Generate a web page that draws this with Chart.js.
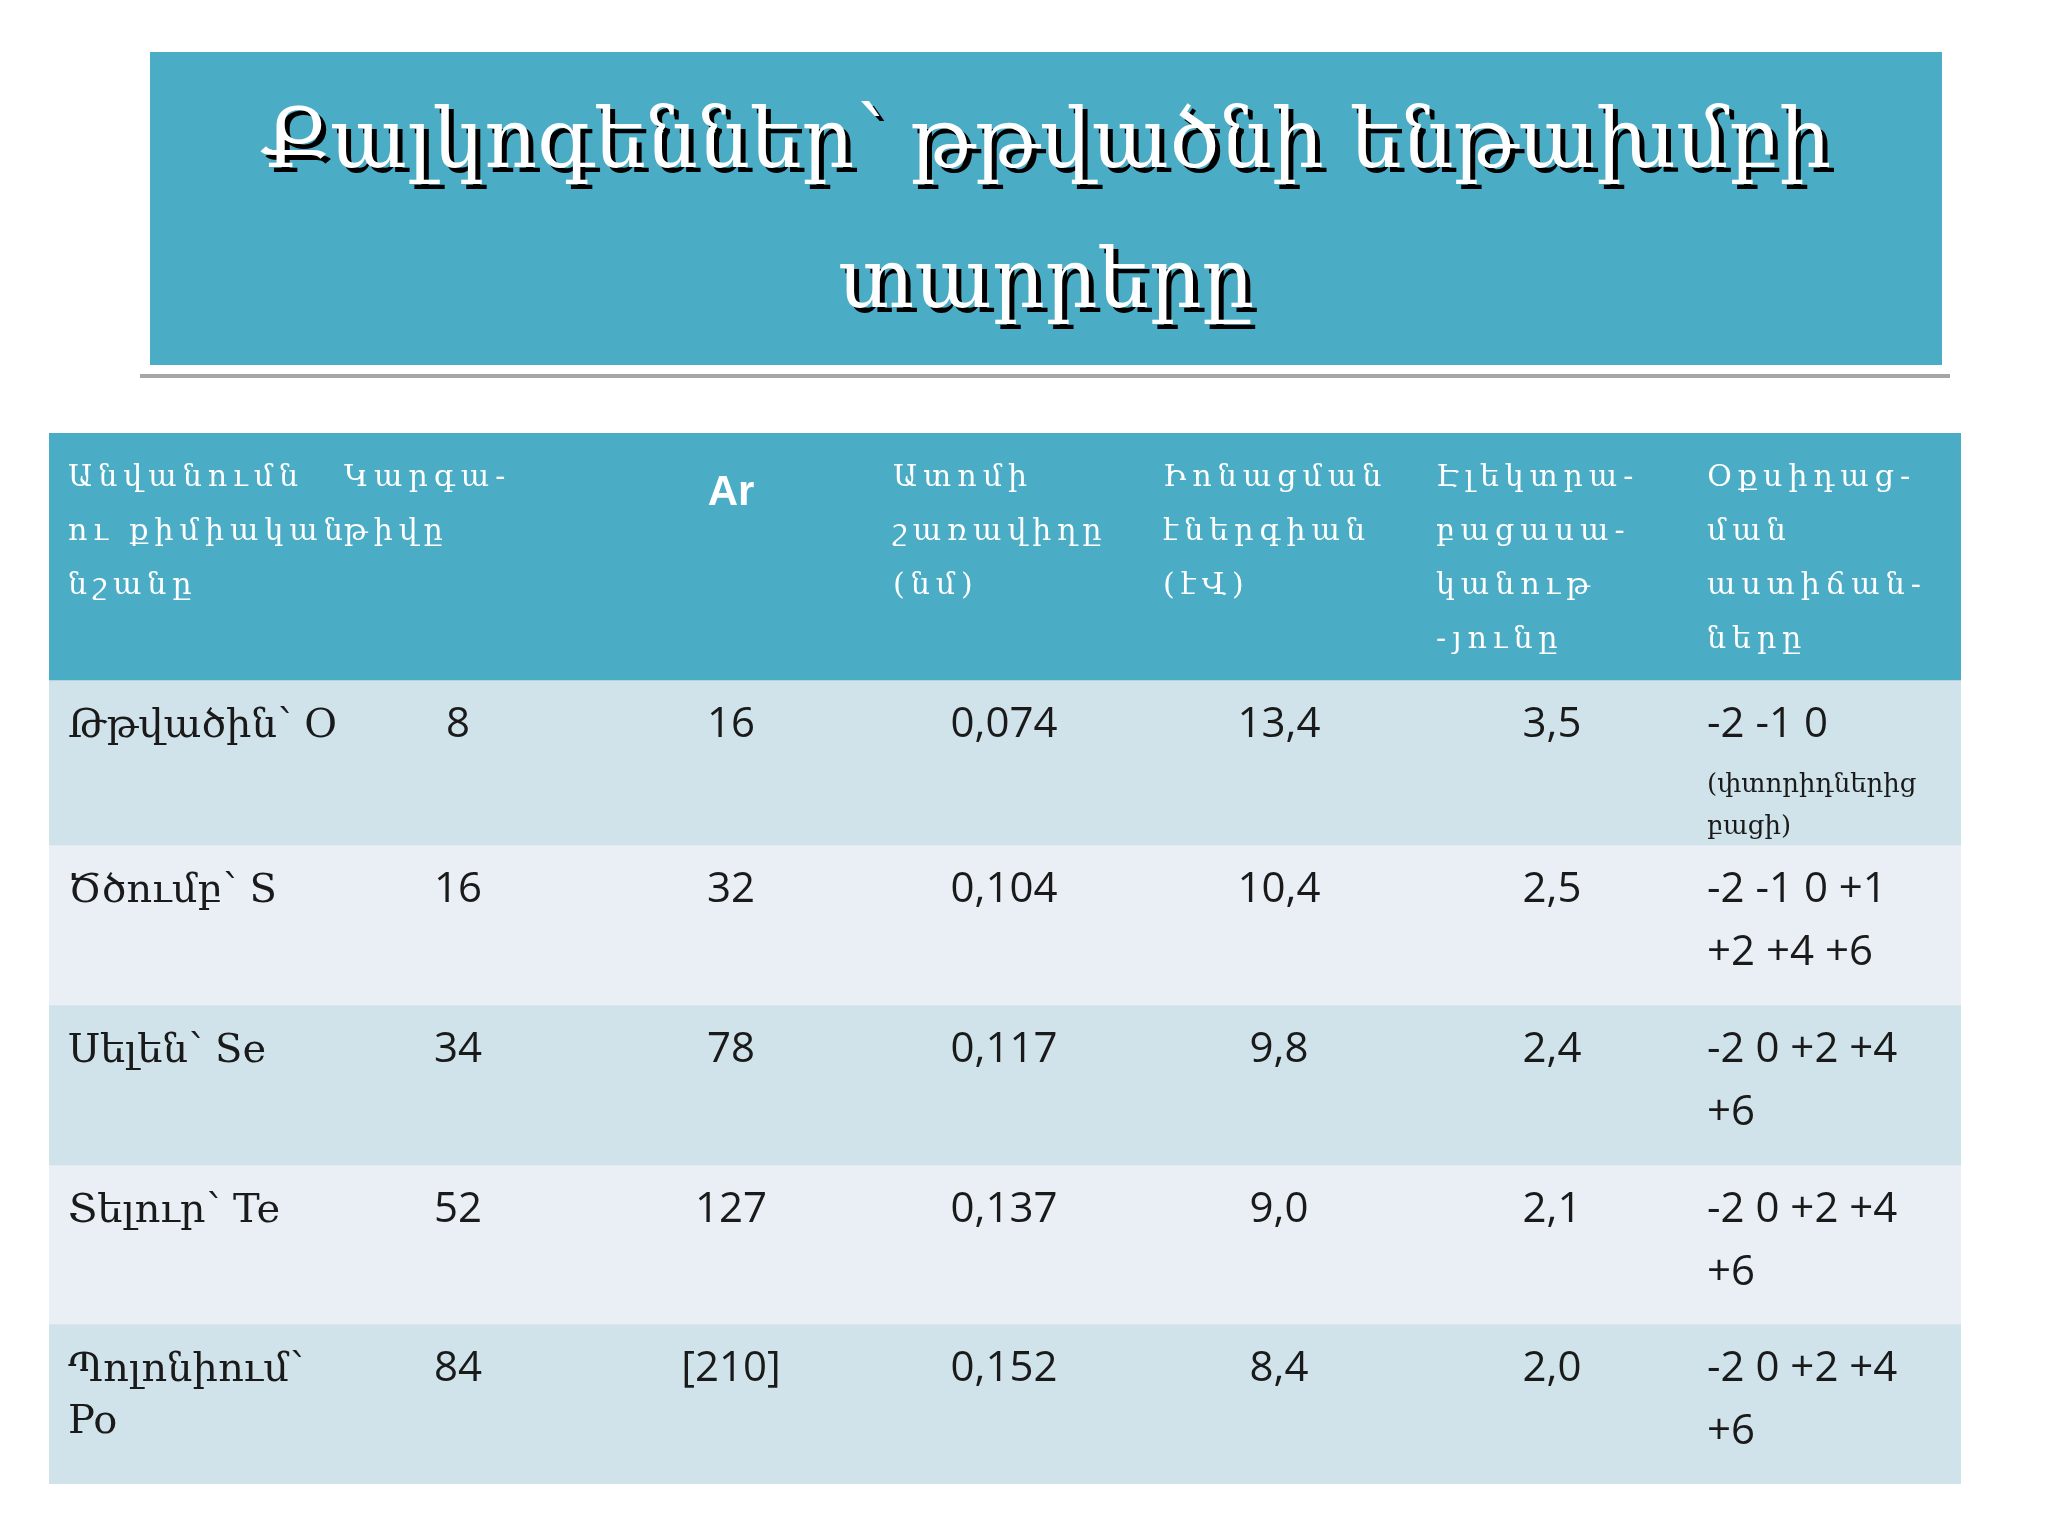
<!DOCTYPE html>
<html>
<head>
<meta charset="utf-8">
<script src="https://cdn.jsdelivr.net/npm/chart.js@4"></script>
<style>
  body { margin: 0; background: #fff; width: 2048px; height: 1536px; position: relative; overflow: hidden; }
  #titulo {
    position: absolute; left: 150px; top: 52px; width: 1792px; height: 313px;
    background: #4bacc6; color: #fff; text-align: center;
    font-family: "DejaVu Serif", serif; font-size: 82px; line-height: 140px;
    display: flex; align-items: center; justify-content: center;
    text-shadow: 5px 5px 0 #000;
  }
  #linea { position: absolute; left: 140px; top: 374px; width: 1810px; height: 4px; background: #a6a6a6; }
  #caja { position: absolute; left: 49px; top: 433px; width: 1912px; height: 1051px; }
</style>
</head>
<body>
<div id="titulo">Քալկոգեններ՝ թթվածնի ենթախմբի<br>տարրերը</div>
<div id="linea"></div>
<div id="caja"><canvas id="tabla"></canvas></div>
<script>
// Datos de la tabla
const encabezados = [
  ["Անվանումն", "ու քիմիական", "նշանը"],
  ["Կարգա-", "թիվը"],
  ["Ar"],
  ["Ատոմի", "շառավիղը", "(նմ)"],
  ["Իոնացման", "էներգիան", "(էՎ)"],
  ["Էլեկտրա-", "բացասա-", "կանութ", "-յունը"],
  ["Օքսիդաց-", "ման", "աստիճան-", "ները"]
];
const nombres = [["Թթվածին՝ O"], ["Ծծումբ՝ S"], ["Սելեն՝ Se"], ["Տելուր՝ Te"], ["Պոլոնիում՝", "Po"]];
const numeroAtomico = ["8", "16", "34", "52", "84"];
const masaAtomica = ["16", "32", "78", "127", "[210]"];
const radio = ["0,074", "0,104", "0,117", "0,137", "0,152"];
const ionizacion = ["13,4", "10,4", "9,8", "9,0", "8,4"];
const electroneg = ["3,5", "2,5", "2,4", "2,1", "2,0"];
const oxidacion = [["-2 -1 0"], ["-2 -1 0 +1", "+2 +4 +6"], ["-2 0 +2 +4", "+6"], ["-2 0 +2 +4", "+6"], ["-2 0 +2 +4", "+6"]];
const notaO = ["(փտորիդներից", "բացի)"];
// alto de cada fila (cabecera + 5 elementos)
const altoFilas = [247, 165, 160, 160, 159, 160];
const coloresFilas = ["#4bacc6", "#d0e3ea", "#e9eff5", "#d0e3ea", "#e9eff5", "#d0e3ea"];

// posiciones de las columnas dentro del canvas
const colIzq = [19, 295, 682, 844, 1114, 1387, 1658];
const colCentro = [409, 682, 955, 1230, 1503];

const pluginTexto = {
  id: 'texto',
  afterDatasetsDraw(chart) {
    const ctx = chart.ctx;
    const y = chart.scales.y;
    ctx.save();
    ctx.textBaseline = 'alphabetic';
    // cabecera
    ctx.fillStyle = '#fff';
    encabezados.forEach((lineas, i) => {
      if (i === 2) {
        ctx.font = 'bold 42px "Liberation Sans", Arial';
        ctx.textAlign = 'center';
        ctx.fillText(lineas[0], colIzq[i], y.getPixelForValue(0) + 72);
        return;
      }
      ctx.font = '30px "DejaVu Serif", serif';
      ctx.textAlign = 'left';
      if (ctx.letterSpacing !== undefined) ctx.letterSpacing = '6px';
      lineas.forEach((t, k) => ctx.fillText(t, colIzq[i], y.getPixelForValue(0) + 53 + k * 54));
      if (ctx.letterSpacing !== undefined) ctx.letterSpacing = '0px';
    });
    // filas
    ctx.fillStyle = '#1a1a1a';
    let arriba = altoFilas[0];
    for (let r = 0; r < 5; r++) {
      const base = y.getPixelForValue(arriba) + 57;
      ctx.textAlign = 'left';
      ctx.font = '40px "DejaVu Serif", serif';
      nombres[r].forEach((t, k) => ctx.fillText(t, colIzq[0], base + k * 52));
      ctx.font = '42px "Open Sans", "Liberation Sans", sans-serif';
      [numeroAtomico, masaAtomica, radio, ionizacion, electroneg].forEach((col, c) => {
        ctx.textAlign = 'center';
        ctx.fillText(col[r], colCentro[c], base);
      });
      ctx.textAlign = 'left';
      oxidacion[r].forEach((t, k) => ctx.fillText(t, colIzq[6], base + k * 63));
      if (r === 0) {
        ctx.font = '26px "DejaVu Serif", serif';
        notaO.forEach((t, k) => ctx.fillText(t, colIzq[6], base + 55 + k * 42));
      }
      arriba += altoFilas[r + 1];
    }
    ctx.restore();
  }
};

new Chart(document.getElementById('tabla'), {
  type: 'bar',
  data: {
    labels: ['tabla'],
    datasets: altoFilas.map((h, i) => ({
      data: [h],
      backgroundColor: coloresFilas[i],
      borderWidth: 0,
      barPercentage: 1,
      categoryPercentage: 1
    }))
  },
  options: {
    responsive: true,
    maintainAspectRatio: false,
    animation: false,
    layout: { padding: 0 },
    plugins: { legend: { display: false }, tooltip: { enabled: false } },
    scales: {
      x: { display: false, stacked: true },
      y: { display: false, stacked: true, reverse: true, min: 0, max: altoFilas.reduce((a, b) => a + b, 0) }
    }
  },
  plugins: [pluginTexto]
});
</script>
</body>
</html>
